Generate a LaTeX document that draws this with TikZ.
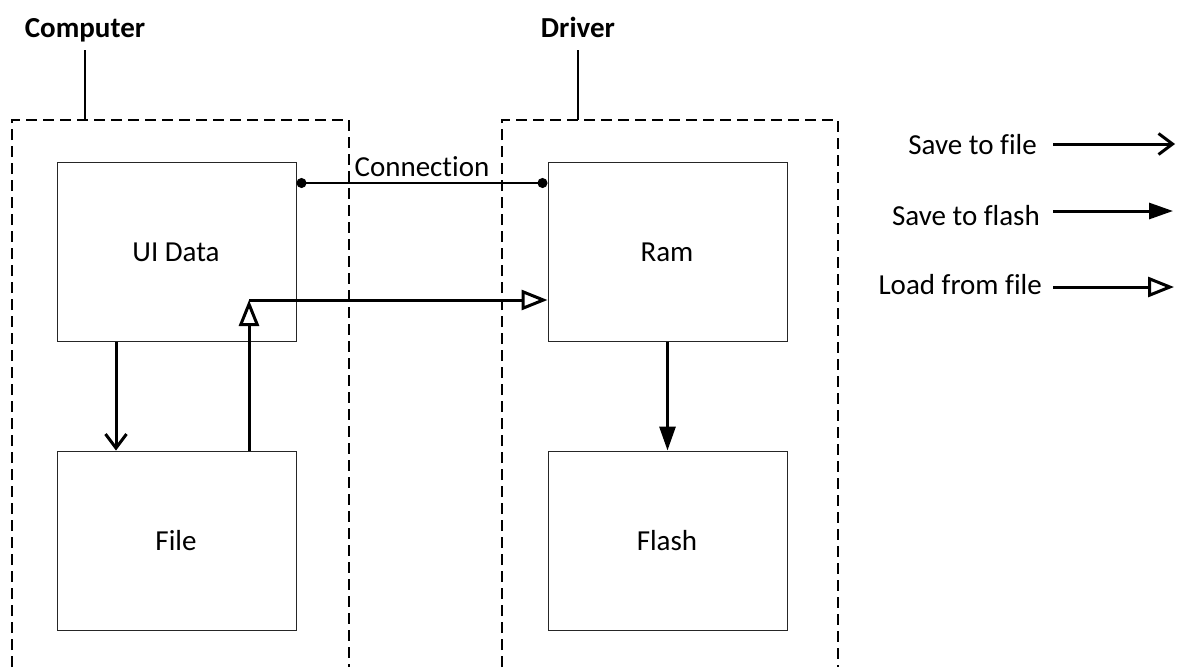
\documentclass[tikz,border=0pt]{standalone}
\usepackage{fontspec}
\setmainfont[RawFeature={-liga;-clig;-dlig;-calt}]{Carlito}
\usetikzlibrary{arrows.meta}
\begin{document}
\begin{tikzpicture}[x=1pt,y=-1pt,
  every node/.style={font=\fontsize{29}{34}\selectfont, inner sep=0pt},
  container/.style={draw, line width=1.3pt, dash pattern=on 11pt off 6pt},
  leader/.style={draw, line width=1.3pt},
  block/.style={draw=black!85, line width=1pt, minimum width=239pt, minimum height=179pt},
  heading/.style={font=\fontsize{29}{34}\selectfont\bfseries, anchor=base},
  label/.style={anchor=base},
  flow/.style={line width=3pt},
  savefile/.style={flow, -{Straight Barb[length=14pt, width=21pt]}},
  saveflash/.style={flow, -{Triangle[length=24pt, width=16pt]}},
  loadfile/.style={flow, -{Triangle[open, length=26pt, width=20pt, line width=3pt]}},
  link/.style={line width=1.3pt, {Circle[length=10pt]}-{Circle[length=10pt]}}]
\useasboundingbox (0,0) rectangle (1182,667);

% groups: dashed frames open at the bottom, with leader lines to their titles
\draw[container] (12,667) -- (12,120) -- (349,120) -- (349,667);
\draw[container] (502,667) -- (502,120) -- (838,120) -- (838,667);
\node[heading] (computer) at (85,37) {Computer};
\node[heading] (driver) at (578,37) {Driver};
\coordinate (cmpTop) at (85,120);
\coordinate (drvTop) at (578,120);
\draw[leader] (computer.south |- 0,50) -- (cmpTop);
\draw[leader] (driver.south |- 0,50) -- (drvTop);

% blocks
\node[block] (ui) at (176.5,251.5) {};
\node[block] (file) at (176.5,540.5) {};
\node[block] (ram) at (667.5,251.5) {};
\node[block] (flash) at (667.5,540.5) {};
\node[label] at (176,261) {UI Data};
\node[label] at (176,550) {File};
\node[label] at (667,261) {Ram};
\node[label] at (667,550) {Flash};

% link between the two sides
\draw[link] (ui.east |- 0,183) -- node[above=6pt, inner sep=0pt] (conn) {Connection} (ram.west |- 0,183);

% data flows
\draw[savefile] (ui.south -| 116,0) -- (file.north -| 116,0);
\coordinate (junction) at (249,300);
\draw[loadfile] (file.north -| junction) -- (junction);
\draw[loadfile] (junction) -- (ram.west |- junction);
\draw[saveflash] (ram.south) -- (flash.north);

% legend
\node[anchor=base east] (lg1) at (1037,154) {Save to file};
\node[anchor=base east] (lg2) at (1040,225) {Save to flash};
\node[anchor=base east] (lg3) at (1042,294) {Load from file};
\coordinate (lg1a) at (1053,144);
\coordinate (lg1b) at (1175,144);
\coordinate (lg2a) at (1053,211);
\coordinate (lg2b) at (1173,211);
\coordinate (lg3a) at (1053,287);
\coordinate (lg3b) at (1174,287);
\draw[savefile] (lg1a) -- (lg1b);
\draw[saveflash] (lg2a) -- (lg2b);
\draw[loadfile] (lg3a) -- (lg3b);
\end{tikzpicture}
\end{document}
